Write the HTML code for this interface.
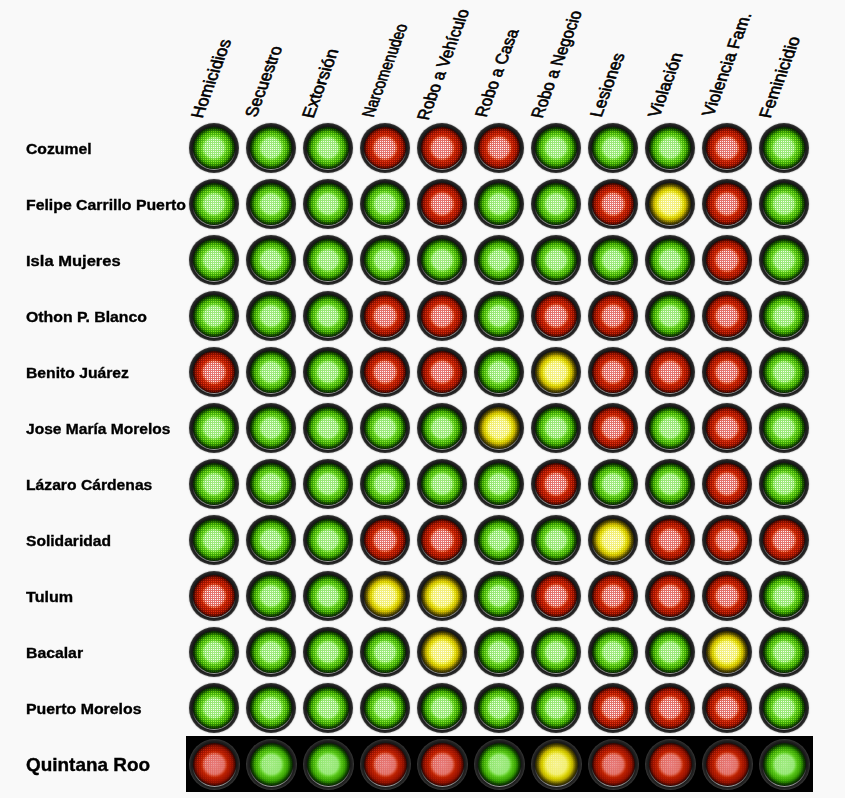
<!DOCTYPE html><html><head><meta charset="utf-8"><style>
*{margin:0;padding:0;box-sizing:border-box}
html,body{width:845px;height:798px;overflow:hidden;background:#f9f9f9}
body{position:relative;font-family:"Liberation Sans",sans-serif;color:#000}
.lbl{position:absolute;left:26px;font-weight:bold;-webkit-text-stroke:0.35px #000;font-size:15.5px;line-height:20px;white-space:nowrap;transform-origin:0 50%}
.tot{font-size:17.8px}
.hd{position:absolute;white-space:nowrap;font-size:16.9px;line-height:24px;height:24px;transform-origin:0 17.86px;color:#000;-webkit-text-stroke:0.6px #000}
.blk{position:absolute;left:186px;top:736px;width:627px;height:56px;background:#000}
.B{transform:translate(0.5px,0.5px) scale(1.02)}
.L{position:absolute;width:50px;height:50px;border-radius:50%;background:radial-gradient(closest-side,#181818 88%,#262626 95%,#3a3a3a 100%);box-shadow:0 0 1.2px rgba(0,0,0,.55)}
.L:before{content:"";position:absolute;left:3px;top:3px;width:44px;height:44px;border-radius:50%;
 background:linear-gradient(to bottom, #181818 55%, #a0a0a0 100%);}
.L:after{content:"";position:absolute;left:4px;top:4px;width:42px;height:42px;border-radius:50%;}
.L i{position:absolute;left:4px;top:4px;width:42px;height:42px;border-radius:50%;z-index:1;
 -webkit-mask:linear-gradient(90deg,#000 50%,transparent 50%) 0 0/2px 2px,linear-gradient(#000 50%,transparent 50%) 0 0/2px 2px;
 -webkit-mask-composite:source-in;mask-composite:intersect}
.G:after{background:radial-gradient(closest-side, #a2ec84 0%, #92e670 44%, #7adc4a 50%, #5ecc26 56%, #4ebc12 62%, #3aa406 74%, #247c00 83%, #124a00 90%, #052000 100%);}
.G i{background:radial-gradient(closest-side, #f8fff0 0%, #ecffe0 44%, #d4ffa0 50%, #b0f860 56%, #9cf040 62%, #80e018 74%, #58b800 83%, #2c7000 90%, #0a3000 100%);}
.R:after{background:radial-gradient(closest-side, #e87c7c 0%, #e06a60 44%, #d85440 50%, #c83418 56%, #b82000 62%, #a41600 74%, #8a1000 85%, #600a00 92%, #280200 100%);}
.R i{background:radial-gradient(closest-side, #ffffff 0%, #fff0f0 44%, #ffd0b8 50%, #ff9060 56%, #f04020 62%, #e83010 74%, #d02808 85%, #901800 92%, #400600 100%);}
.Y:after{background:radial-gradient(closest-side, #f6f290 0%, #f2ee6c 46%, #e8e030 56%, #d4cc00 66%, #b8ac00 76%, #7c7200 84%, #484000 92%, #282400 100%);}
.Y i{background:radial-gradient(closest-side, #ffffff 0%, #ffffe0 46%, #ffff80 56%, #f8f020 66%, #e8c000 76%, #a89000 84%, #605000 92%, #302800 100%);}
</style></head><body>
<div class="hd" style="left:202.60px;top:100.94px;transform:rotate(-69.5deg) skewX(10.5deg) scaleX(1.0106)">Homicidios</div>
<div class="hd" style="left:256.80px;top:100.14px;transform:rotate(-69.5deg) skewX(10.5deg) scaleX(0.9888)">Secuestro</div>
<div class="hd" style="left:314.20px;top:101.34px;transform:rotate(-69.5deg) skewX(10.5deg) scaleX(1.0406)">Extorsión</div>
<div class="hd" style="left:373.60px;top:99.74px;transform:rotate(-69.5deg) skewX(10.5deg) scaleX(0.8542)">Narcomenudeo</div>
<div class="hd" style="left:428.60px;top:102.54px;transform:rotate(-69.5deg) skewX(10.5deg) scaleX(0.9491)">Robo a Vehículo</div>
<div class="hd" style="left:487.20px;top:99.74px;transform:rotate(-69.5deg) skewX(10.5deg) scaleX(0.9449)">Robo a Casa</div>
<div class="hd" style="left:543.00px;top:100.94px;transform:rotate(-69.5deg) skewX(10.5deg) scaleX(0.9412)">Robo a Negocio</div>
<div class="hd" style="left:602.40px;top:99.74px;transform:rotate(-69.5deg) skewX(10.5deg) scaleX(1.0015)">Lesiones</div>
<div class="hd" style="left:659.50px;top:100.14px;transform:rotate(-69.5deg) skewX(10.5deg) scaleX(0.9961)">Violación</div>
<div class="hd" style="left:714.40px;top:99.34px;transform:rotate(-69.5deg) skewX(10.5deg) scaleX(0.9847)">Violencia Fam.</div>
<div class="hd" style="left:770.60px;top:100.94px;transform:rotate(-69.5deg) skewX(10.5deg) scaleX(1.0115)">Feminicidio</div>
<div class="lbl" style="top:139px; transform:scaleX(1.0143);">Cozumel</div>
<div class="L G" style="left:189px;top:123px"><i></i></div>
<div class="L G" style="left:246px;top:123px"><i></i></div>
<div class="L G" style="left:303px;top:123px"><i></i></div>
<div class="L R" style="left:360px;top:123px"><i></i></div>
<div class="L R" style="left:417px;top:123px"><i></i></div>
<div class="L R" style="left:474px;top:123px"><i></i></div>
<div class="L G" style="left:531px;top:123px"><i></i></div>
<div class="L G" style="left:588px;top:123px"><i></i></div>
<div class="L G" style="left:645px;top:123px"><i></i></div>
<div class="L R" style="left:702px;top:123px"><i></i></div>
<div class="L G" style="left:759px;top:123px"><i></i></div>
<div class="lbl" style="top:195px; transform:scaleX(1.0206);">Felipe Carrillo Puerto</div>
<div class="L G" style="left:189px;top:179px"><i></i></div>
<div class="L G" style="left:246px;top:179px"><i></i></div>
<div class="L G" style="left:303px;top:179px"><i></i></div>
<div class="L G" style="left:360px;top:179px"><i></i></div>
<div class="L R" style="left:417px;top:179px"><i></i></div>
<div class="L G" style="left:474px;top:179px"><i></i></div>
<div class="L G" style="left:531px;top:179px"><i></i></div>
<div class="L R" style="left:588px;top:179px"><i></i></div>
<div class="L Y" style="left:645px;top:179px"><i></i></div>
<div class="L R" style="left:702px;top:179px"><i></i></div>
<div class="L G" style="left:759px;top:179px"><i></i></div>
<div class="lbl" style="top:251px; transform:scaleX(1.0667);">Isla Mujeres</div>
<div class="L G" style="left:189px;top:235px"><i></i></div>
<div class="L G" style="left:246px;top:235px"><i></i></div>
<div class="L G" style="left:303px;top:235px"><i></i></div>
<div class="L G" style="left:360px;top:235px"><i></i></div>
<div class="L G" style="left:417px;top:235px"><i></i></div>
<div class="L G" style="left:474px;top:235px"><i></i></div>
<div class="L G" style="left:531px;top:235px"><i></i></div>
<div class="L G" style="left:588px;top:235px"><i></i></div>
<div class="L G" style="left:645px;top:235px"><i></i></div>
<div class="L R" style="left:702px;top:235px"><i></i></div>
<div class="L G" style="left:759px;top:235px"><i></i></div>
<div class="lbl" style="top:307px; transform:scaleX(1.0205);">Othon P. Blanco</div>
<div class="L G" style="left:189px;top:291px"><i></i></div>
<div class="L G" style="left:246px;top:291px"><i></i></div>
<div class="L G" style="left:303px;top:291px"><i></i></div>
<div class="L R" style="left:360px;top:291px"><i></i></div>
<div class="L R" style="left:417px;top:291px"><i></i></div>
<div class="L G" style="left:474px;top:291px"><i></i></div>
<div class="L R" style="left:531px;top:291px"><i></i></div>
<div class="L R" style="left:588px;top:291px"><i></i></div>
<div class="L G" style="left:645px;top:291px"><i></i></div>
<div class="L R" style="left:702px;top:291px"><i></i></div>
<div class="L G" style="left:759px;top:291px"><i></i></div>
<div class="lbl" style="top:363px; transform:scaleX(1.0129);">Benito Juárez</div>
<div class="L R" style="left:189px;top:347px"><i></i></div>
<div class="L G" style="left:246px;top:347px"><i></i></div>
<div class="L G" style="left:303px;top:347px"><i></i></div>
<div class="L R" style="left:360px;top:347px"><i></i></div>
<div class="L R" style="left:417px;top:347px"><i></i></div>
<div class="L G" style="left:474px;top:347px"><i></i></div>
<div class="L Y" style="left:531px;top:347px"><i></i></div>
<div class="L R" style="left:588px;top:347px"><i></i></div>
<div class="L R" style="left:645px;top:347px"><i></i></div>
<div class="L R" style="left:702px;top:347px"><i></i></div>
<div class="L G" style="left:759px;top:347px"><i></i></div>
<div class="lbl" style="top:419px; transform:scaleX(1.0035);">Jose María Morelos</div>
<div class="L G" style="left:189px;top:403px"><i></i></div>
<div class="L G" style="left:246px;top:403px"><i></i></div>
<div class="L G" style="left:303px;top:403px"><i></i></div>
<div class="L G" style="left:360px;top:403px"><i></i></div>
<div class="L G" style="left:417px;top:403px"><i></i></div>
<div class="L Y" style="left:474px;top:403px"><i></i></div>
<div class="L G" style="left:531px;top:403px"><i></i></div>
<div class="L R" style="left:588px;top:403px"><i></i></div>
<div class="L G" style="left:645px;top:403px"><i></i></div>
<div class="L R" style="left:702px;top:403px"><i></i></div>
<div class="L G" style="left:759px;top:403px"><i></i></div>
<div class="lbl" style="top:475px; transform:scaleX(1.0114);">Lázaro Cárdenas</div>
<div class="L G" style="left:189px;top:459px"><i></i></div>
<div class="L G" style="left:246px;top:459px"><i></i></div>
<div class="L G" style="left:303px;top:459px"><i></i></div>
<div class="L G" style="left:360px;top:459px"><i></i></div>
<div class="L G" style="left:417px;top:459px"><i></i></div>
<div class="L G" style="left:474px;top:459px"><i></i></div>
<div class="L R" style="left:531px;top:459px"><i></i></div>
<div class="L G" style="left:588px;top:459px"><i></i></div>
<div class="L G" style="left:645px;top:459px"><i></i></div>
<div class="L R" style="left:702px;top:459px"><i></i></div>
<div class="L G" style="left:759px;top:459px"><i></i></div>
<div class="lbl" style="top:531px; transform:scaleX(1.0071);">Solidaridad</div>
<div class="L G" style="left:189px;top:515px"><i></i></div>
<div class="L G" style="left:246px;top:515px"><i></i></div>
<div class="L G" style="left:303px;top:515px"><i></i></div>
<div class="L R" style="left:360px;top:515px"><i></i></div>
<div class="L R" style="left:417px;top:515px"><i></i></div>
<div class="L G" style="left:474px;top:515px"><i></i></div>
<div class="L G" style="left:531px;top:515px"><i></i></div>
<div class="L Y" style="left:588px;top:515px"><i></i></div>
<div class="L R" style="left:645px;top:515px"><i></i></div>
<div class="L R" style="left:702px;top:515px"><i></i></div>
<div class="L R" style="left:759px;top:515px"><i></i></div>
<div class="lbl" style="top:587px; transform:scaleX(1.0378);">Tulum</div>
<div class="L R" style="left:189px;top:571px"><i></i></div>
<div class="L G" style="left:246px;top:571px"><i></i></div>
<div class="L G" style="left:303px;top:571px"><i></i></div>
<div class="L Y" style="left:360px;top:571px"><i></i></div>
<div class="L Y" style="left:417px;top:571px"><i></i></div>
<div class="L G" style="left:474px;top:571px"><i></i></div>
<div class="L R" style="left:531px;top:571px"><i></i></div>
<div class="L R" style="left:588px;top:571px"><i></i></div>
<div class="L R" style="left:645px;top:571px"><i></i></div>
<div class="L R" style="left:702px;top:571px"><i></i></div>
<div class="L G" style="left:759px;top:571px"><i></i></div>
<div class="lbl" style="top:643px; transform:scaleX(1.0182);">Bacalar</div>
<div class="L G" style="left:189px;top:627px"><i></i></div>
<div class="L G" style="left:246px;top:627px"><i></i></div>
<div class="L G" style="left:303px;top:627px"><i></i></div>
<div class="L G" style="left:360px;top:627px"><i></i></div>
<div class="L Y" style="left:417px;top:627px"><i></i></div>
<div class="L G" style="left:474px;top:627px"><i></i></div>
<div class="L G" style="left:531px;top:627px"><i></i></div>
<div class="L G" style="left:588px;top:627px"><i></i></div>
<div class="L G" style="left:645px;top:627px"><i></i></div>
<div class="L Y" style="left:702px;top:627px"><i></i></div>
<div class="L G" style="left:759px;top:627px"><i></i></div>
<div class="lbl" style="top:699px; transform:scaleX(1.0243);">Puerto Morelos</div>
<div class="L G" style="left:189px;top:683px"><i></i></div>
<div class="L G" style="left:246px;top:683px"><i></i></div>
<div class="L G" style="left:303px;top:683px"><i></i></div>
<div class="L G" style="left:360px;top:683px"><i></i></div>
<div class="L G" style="left:417px;top:683px"><i></i></div>
<div class="L G" style="left:474px;top:683px"><i></i></div>
<div class="L G" style="left:531px;top:683px"><i></i></div>
<div class="L R" style="left:588px;top:683px"><i></i></div>
<div class="L R" style="left:645px;top:683px"><i></i></div>
<div class="L R" style="left:702px;top:683px"><i></i></div>
<div class="L G" style="left:759px;top:683px"><i></i></div>
<div class="blk"></div>
<div class="lbl tot" style="top:755px; transform:scaleX(1.0643);">Quintana Roo</div>
<div class="L R B" style="left:189px;top:739px"><i></i></div>
<div class="L G B" style="left:246px;top:739px"><i></i></div>
<div class="L G B" style="left:303px;top:739px"><i></i></div>
<div class="L R B" style="left:360px;top:739px"><i></i></div>
<div class="L R B" style="left:417px;top:739px"><i></i></div>
<div class="L G B" style="left:474px;top:739px"><i></i></div>
<div class="L Y B" style="left:531px;top:739px"><i></i></div>
<div class="L R B" style="left:588px;top:739px"><i></i></div>
<div class="L R B" style="left:645px;top:739px"><i></i></div>
<div class="L R B" style="left:702px;top:739px"><i></i></div>
<div class="L G B" style="left:759px;top:739px"><i></i></div>
</body></html>
